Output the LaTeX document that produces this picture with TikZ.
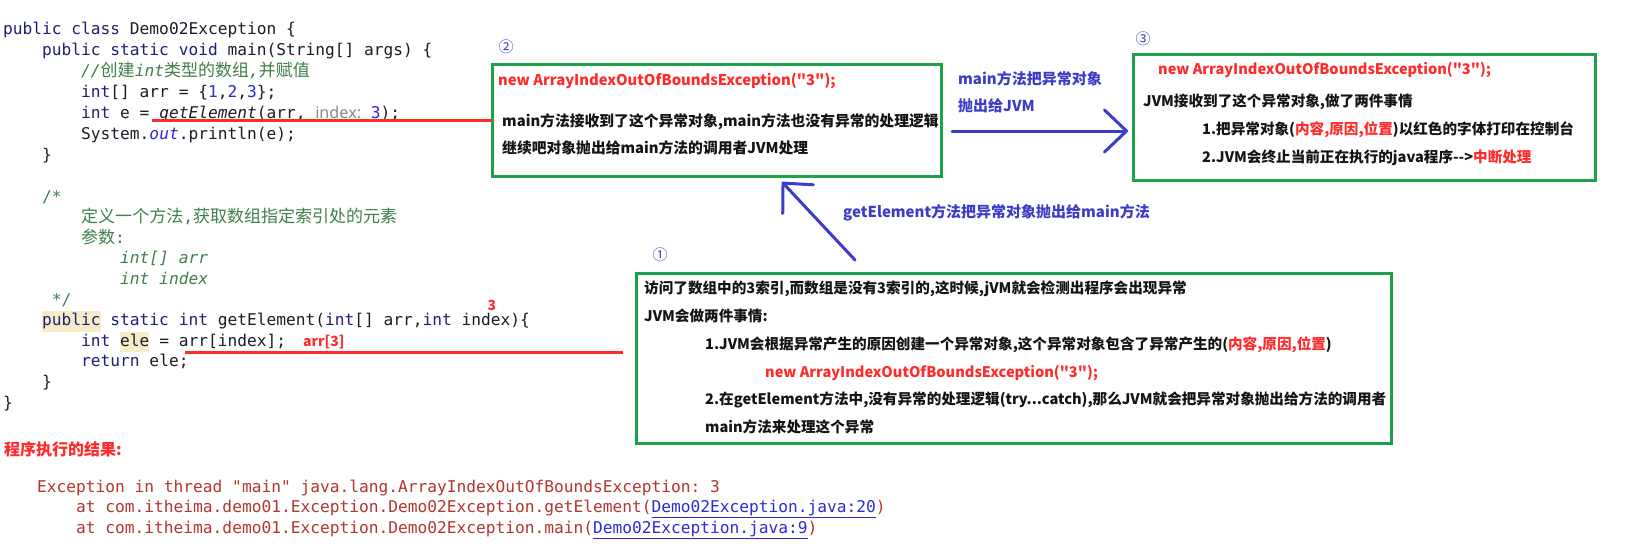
\documentclass[tikz,border=0pt]{standalone}
\usepackage{fontspec}
\setmonofont{DejaVu Sans Mono}
\newfontfamily\cjk{Noto Sans CJK SC}
\newfontfamily\cjkc[Scale=1.05]{Noto Sans CJK SC}
\newfontfamily\hintfont{Noto Sans}
\usepackage{tikz}
\usetikzlibrary{positioning, arrows.meta, calc}

\definecolor{boxgreen}{HTML}{1FA04A}
\definecolor{boxblack}{HTML}{141414}
\definecolor{hired}{HTML}{FF2B2B}
\definecolor{arrblue}{HTML}{3C3CC8}
\definecolor{kwblue}{HTML}{1F1F78}
\definecolor{codeblack}{HTML}{1C1C28}
\definecolor{numblue}{HTML}{2A2AD2}
\definecolor{cmtgreen}{HTML}{3F7F4A}
\definecolor{hlyellow}{HTML}{F8ECC8}
\definecolor{hintgray}{HTML}{8A8A8A}
\definecolor{outred}{HTML}{B2362E}
\definecolor{linkblue}{HTML}{2B2BD8}

\newcommand{\kw}[1]{\textcolor{kwblue}{#1}}
\newcommand{\lit}[1]{\textcolor{numblue}{#1}}
\newcommand{\hot}[1]{\textcolor{hired}{#1}}
\newcommand{\lnk}[1]{\textcolor{linkblue}{\underline{#1}}}
\newcommand{\hlt}[1]{{\setlength{\fboxsep}{0pt}\colorbox{hlyellow}{\strut #1}}}
\newcommand{\ind}[1]{\hspace*{#1\fontcharwd\font`0}}

\begin{document}
\begin{tikzpicture}[
  x=1pt, y=-1pt,
  gbox/.style={rectangle, draw=boxgreen, line width=3pt, outer sep=0pt},
  btxt/.style={font=\cjk\bfseries\fontsize{14.6}{27.8}\selectfont, text=boxblack,
    align=left, inner sep=0pt, anchor=base west},
  bluetxt/.style={font=\cjk\bfseries\fontsize{15}{27}\selectfont, text=arrblue,
    align=left, inner sep=0pt, anchor=base west},
  numtxt/.style={font=\cjk\fontsize{15}{15}\selectfont, text=arrblue, inner sep=0pt},
  code/.style={font=\ttfamily\fontsize{16.2}{21}\selectfont, text=codeblack,
    align=left, inner sep=0pt, anchor=base west},
  redmark/.style={font=\cjk\bfseries\fontsize{14}{14}\selectfont, text=hired, inner sep=0pt},
  redline/.style={line width=3pt, color=hired},
  bluearr/.style={-{Straight Barb[length=22pt, width=42pt, round]}, line width=3pt,
    color=arrblue, line cap=round},
]
\useasboundingbox (0,0) rectangle (1630,546);
\fill[white] (0,0) rectangle (1630,546);

% Code (base = Grundlinie der letzten Zeile)
\node[code] (codetop) at (3,160) {%
  \kw{public} \kw{class} Demo02Exception \{\\
  \ind{4}\kw{public} \kw{static} \kw{void} main(String[] args) \{\\
  \ind{8}{\color{cmtgreen}\itshape //{\cjkc 创建}int{\cjkc 类型的数组},{\cjkc 并赋值}}\\
  \ind{8}\kw{int}[] arr = \{\lit{1},\lit{2},\lit{3}\};\\
  \ind{8}\kw{int} e = {\itshape getElement}(arr, {\hintfont\color{hintgray}index:} \lit{3});\\
  \ind{8}System.{\itshape\color{numblue}out}.println(e);\\
  \ind{4}\}};
\node[code, font=\ttfamily\fontsize{16.2}{20.6}\selectfont] (codebot) at (3,408) {%
  \ind{4}{\color{cmtgreen}/*}\\
  \ind{8}{\color{cmtgreen}{\cjkc 定义一个方法},{\cjkc 获取数组指定索引处的元素}}\\
  \ind{8}{\color{cmtgreen}{\cjkc 参数}:}\\
  \ind{12}{\color{cmtgreen}\itshape int[] arr}\\
  \ind{12}{\color{cmtgreen}\itshape int index}\\
  \ind{5}{\color{cmtgreen}*/}\\
  \ind{4}\hlt{\kw{public}} \kw{static} \kw{int} getElement(\kw{int}[] arr,\kw{int} index)\{\\
  \ind{8}\kw{int} \hlt{ele} = arr[index];\\
  \ind{8}\kw{return} ele;\\
  \ind{4}\}\\
  \}};
\node[redmark] (mark3) at (492,305) {3};
\node[redmark, anchor=west] (markarr) at (303,342) {arr[3]};

% Ergebnis
\node[anchor=west, font=\cjk\bfseries\fontsize{16}{16}\selectfont, text=hired, inner sep=0pt]
  (reslbl) at (4,449) {程序执行的结果:};
\node[code, text=outred, font=\ttfamily\fontsize{16.2}{20.5}\selectfont] (trace) at (37,533) {%
  Exception in thread "main" java.lang.ArrayIndexOutOfBoundsException: 3\\
  \ind{4}at com.itheima.demo01.Exception.Demo02Exception.getElement(\lnk{Demo02Exception.java:20})\\
  \ind{4}at com.itheima.demo01.Exception.Demo02Exception.main(\lnk{Demo02Exception.java:9})};

% Kaesten
\node[gbox, minimum width=449pt, minimum height=112pt] (box2) at (716.5,120) {};
\node[gbox, minimum width=462pt, minimum height=126pt, right=192pt of box2, yshift=3pt] (box3) {};
\node[gbox, minimum width=755pt, minimum height=170pt] (box1) at (1013.5,358) {};

\node[numtxt] (num2) at ($(box2.north west)+(14,-17)$) {②};
\node[numtxt] (num3) at ($(box3.north west)+(10,-15)$) {③};
\node[numtxt] (num1) at ($(box1.north west)+(24,-18)$) {①};

\node[btxt, font=\cjk\bfseries\fontsize{14.8}{27}\selectfont] (box2txt) at ($(box2.north west)+(6,89.7)$) {%
  \hot{new ArrayIndexOutOfBoundsException("3");}\\[14pt]
  \hspace*{4pt}main方法接收到了这个异常对象,main方法也没有异常的处理逻辑\\
  \hspace*{4pt}继续吧对象抛出给main方法的调用者JVM处理};

\node[btxt, font=\cjk\bfseries\fontsize{14.6}{28}\selectfont] (box3txt) at ($(box3.north west)+(10,108.7)$) {%
  \hspace*{15pt}\hot{new ArrayIndexOutOfBoundsException("3");}\\[4pt]
  JVM接收到了这个异常对象,做了两件事情\\
  \hspace*{59pt}1.把异常对象(\hot{内容,原因,位置})以红色的字体打印在控制台\\
  \hspace*{59pt}2.JVM会终止当前正在执行的java程序-{}->\hot{中断处理}};

\node[btxt] (box1txt) at ($(box1.north west)+(8,159.7)$) {%
  访问了数组中的3索引,而数组是没有3索引的,这时候,jVM就会检测出程序会出现异常\\
  JVM会做两件事情:\\
  \hspace*{61pt}1.JVM会根据异常产生的原因创建一个异常对象,这个异常对象包含了异常产生的(\hot{内容,原因,位置})\\
  \hspace*{121pt}\hot{new ArrayIndexOutOfBoundsException("3");}\\
  \hspace*{61pt}2.在getElement方法中,没有异常的处理逻辑(try...catch),那么JVM就会把异常对象抛出给方法的调用者\\
  \hspace*{61pt}main方法来处理这个异常};

\node[bluetxt] (lblmain) at ($(box2.north east)+(17,47.7)$) {main方法把异常对象\\抛出给JVM};
\node[bluetxt] (lblget) at ($(box2.south west)+(351,41.7)$) {getElement方法把异常对象抛出给main方法};

% Verbindungen
\coordinate (callu) at (152,120);
\coordinate (accu) at (185,352);
\coordinate (accend) at ($(box1.west)+(-13,-6)$);
\draw[redline] (callu) -- (box2.west);
\draw[redline] (accu) -- (accend);

\draw[bluearr] ($(box2.east)+(11,11)$) -- ($(box3.west)+(-5,14)$);
\draw[bluearr] ($(box1.north west)+(219,-13)$) -- ($(box2.south west)+(290,6)$);

\end{tikzpicture}
\end{document}
